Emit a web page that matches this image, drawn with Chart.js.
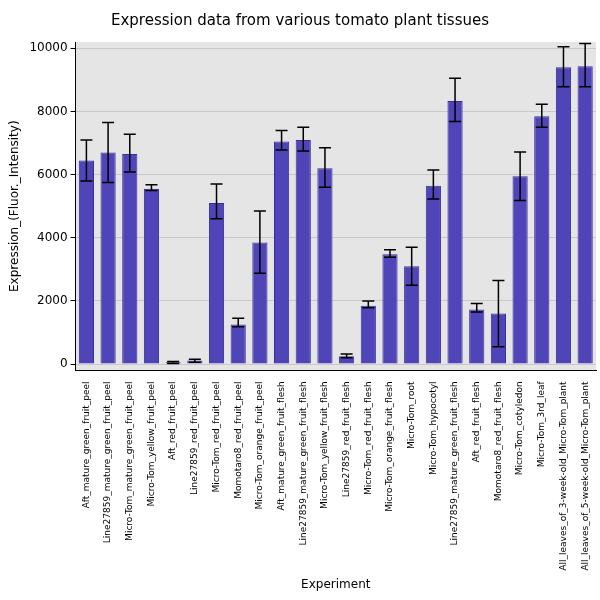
<!DOCTYPE html>
<html>
<head>
<meta charset="utf-8">
<script src="https://cdn.jsdelivr.net/npm/chart.js@4.4.0/dist/chart.umd.min.js"></script>
<style>
  html, body { margin: 0; padding: 0; background: #fff; }
  #wrap { width: 600px; height: 600px; }
</style>
</head>
<body>
<div id="wrap"><canvas id="c"></canvas></div>
<script>
const labels = [
  'Aft_mature_green_fruit_peel', 'Line27859_mature_green_fruit_peel', 'Micro-Tom_mature_green_fruit_peel',
  'Micro-Tom_yellow_fruit_peel', 'Aft_red_fruit_peel', 'Line27859_red_fruit_peel', 'Micro-Tom_red_fruit_peel',
  'Momotaro8_red_fruit_peel', 'Micro-Tom_orange_fruit_peel', 'Aft_mature_green_fruit_flesh',
  'Line27859_mature_green_fruit_flesh', 'Micro-Tom_yellow_fruit_flesh', 'Line27859_red_fruit_flesh',
  'Micro-Tom_red_fruit_flesh', 'Micro-Tom_orange_fruit_flesh', 'Micro-Tom_root', 'Micro-Tom_hypocotyl',
  'Line27859_mature_green_fruit_flesh', 'Aft_red_fruit_flesh', 'Momotaro8_red_fruit_flesh',
  'Micro-Tom_cotyledon', 'Micro-Tom_3rd_leaf', 'All_leaves_of_3-week-old_Micro-Tom_plant',
  'All_leaves_of_5-week-old_Micro-Tom_plant'
];
const values = [6450, 6700, 6650, 5550, 60, 110, 5100, 1250, 3850, 7050, 7100, 6200, 250, 1850,
  3480, 3100, 5650, 8330, 1730, 1600, 5950, 7850, 9400, 9430];
const errLow = [5800, 5750, 6080, 5500, 20, 60, 4600, 1180, 2880, 6780, 6750, 5600, 200, 1780,
  3380, 2500, 5230, 7680, 1650, 550, 5180, 7500, 8780, 8780];
const errHigh = [7100, 7650, 7280, 5680, 80, 150, 5700, 1450, 4850, 7400, 7500, 6850, 320, 2000,
  3620, 3700, 6150, 9050, 1920, 2650, 6720, 8230, 10050, 10150];

const bgPlugin = {
  id: 'bg',
  beforeDraw(chart) {
    const a = chart.chartArea, ctx = chart.ctx;
    ctx.save();
    ctx.fillStyle = '#e5e5e5';
    ctx.fillRect(a.left, a.top, a.right - a.left, a.bottom - a.top);
    ctx.restore();
  }
};

const errPlugin = {
  id: 'err',
  afterDatasetsDraw(chart) {
    const ctx = chart.ctx, y = chart.scales.y;
    const meta = chart.getDatasetMeta(0);
    ctx.save();
    ctx.strokeStyle = '#000';
    ctx.lineWidth = 1.5;
    meta.data.forEach((bar, i) => {
      const x = bar.x, y1 = y.getPixelForValue(errLow[i]), y2 = y.getPixelForValue(errHigh[i]);
      ctx.beginPath();
      ctx.moveTo(x, y1); ctx.lineTo(x, y2);
      ctx.moveTo(x - 6, y1); ctx.lineTo(x + 6, y1);
      ctx.moveTo(x - 6, y2); ctx.lineTo(x + 6, y2);
      ctx.stroke();
    });
    ctx.restore();
  }
};

new Chart(document.getElementById('c'), {
  type: 'bar',
  data: {
    labels,
    datasets: [{
      data: values,
      backgroundColor: '#4f44b8',
      borderColor: '#3a2f9a',
      borderWidth: 1,
      barPercentage: 0.7,
      categoryPercentage: 1.0
    }]
  },
  options: {
    responsive: true,
    maintainAspectRatio: false,
    animation: false,
    layout: { padding: { left: 4, right: 4, top: 4, bottom: 4 } },
    plugins: {
      legend: { display: false },
      tooltip: { enabled: false },
      title: {
        display: true,
        text: 'Expression data from various tomato plant tissues',
        color: '#000',
        font: { family: 'DejaVu Sans', size: 15, weight: 'normal' },
        padding: { top: 8, bottom: 12 }
      }
    },
    scales: {
      x: {
        grid: { display: false },
        border: { color: '#000' },
        ticks: {
          color: '#000', autoSkip: false, maxRotation: 90, minRotation: 90,
          font: { family: 'DejaVu Sans', size: 9 }
        },
        title: {
          display: true, text: 'Experiment', color: '#000',
          font: { family: 'DejaVu Sans', size: 12 }
        }
      },
      y: {
        min: -200, max: 10200,
        grid: { color: '#c8c8c8', drawTicks: true, tickColor: '#000', tickLength: 5 },
        border: { color: '#000' },
        afterBuildTicks(scale) {
          scale.ticks = [0, 2000, 4000, 6000, 8000, 10000].map(v => ({ value: v }));
        },
        ticks: {
          color: '#000',
          font: { family: 'DejaVu Sans', size: 12 },
          callback: v => String(v)
        },
        title: {
          display: true, text: 'Expression_(Fluor._Intensity)', color: '#000',
          font: { family: 'DejaVu Sans', size: 12 }
        }
      }
    }
  },
  plugins: [bgPlugin, errPlugin]
});
</script>
</body>
</html>
